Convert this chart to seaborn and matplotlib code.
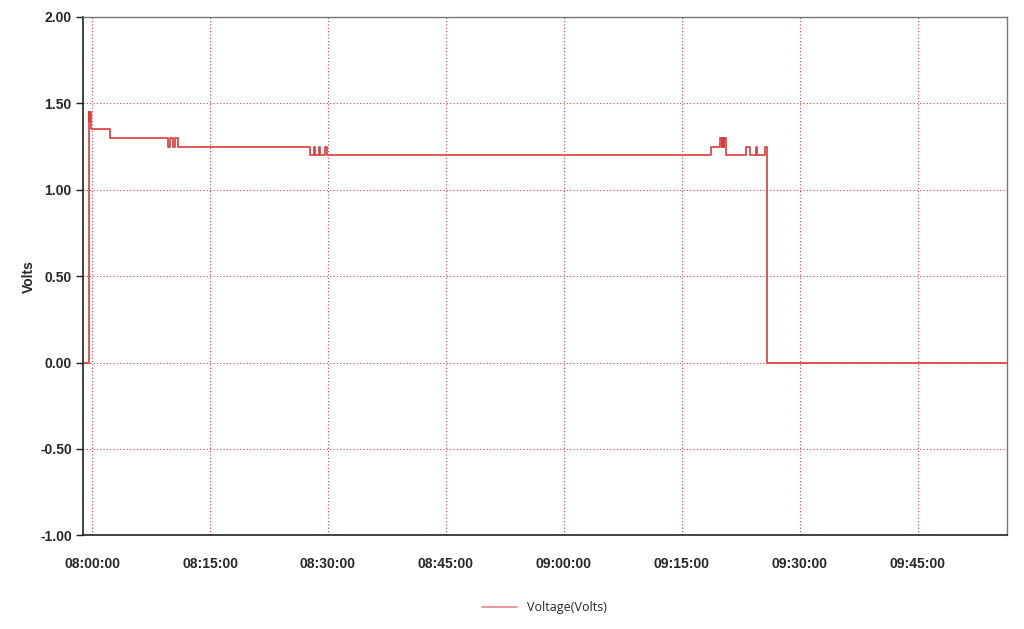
import pandas as pd
import seaborn as sns
import matplotlib.pyplot as plt
import matplotlib.dates as mdates
from matplotlib.ticker import FormatStrFormatter

# step points (time, volts)
times = [
    "07:58:50", "07:59:35", "07:59:40", "07:59:45", "07:59:50",
    "08:02:15",
    "08:09:40", "08:09:55", "08:10:15", "08:10:35", "08:10:55",
    "08:27:40", "08:28:10", "08:28:20", "08:28:50", "08:29:00", "08:29:35", "08:29:50",
    "09:18:40", "09:19:55", "09:20:05", "09:20:10", "09:20:20", "09:20:25", "09:20:35",
    "09:23:10", "09:23:45", "09:24:28", "09:24:38", "09:25:38", "09:25:55",
    "09:56:20",
]
volts = [
    0.00, 1.45, 1.40, 1.45, 1.35,
    1.30,
    1.25, 1.30, 1.25, 1.30, 1.25,
    1.20, 1.25, 1.20, 1.25, 1.20, 1.25, 1.20,
    1.25, 1.30, 1.25, 1.30, 1.25, 1.30, 1.20,
    1.25, 1.20, 1.25, 1.20, 1.25, 0.00,
    0.00,
]
y_ticks = [-1.0, -0.5, 0.0, 0.5, 1.0, 1.5, 2.0]

df = pd.DataFrame({
    "time": pd.to_datetime(["2024-01-01 " + t for t in times]),
    "Voltage(Volts)": volts,
})

sns.set_style("white")
plt.rcParams["font.family"] = ["Liberation Sans", "DejaVu Sans"]

fig = plt.figure(figsize=(10.24, 6.29), dpi=100)
ax = fig.add_axes([0.081, 0.149, 0.902, 0.824])

sns.lineplot(data=df, x="time", y="Voltage(Volts)", ax=ax, color="#dd3b3b",
             linewidth=1.2, drawstyle="steps-post", label="Voltage(Volts)")

ax.set_xlim(df["time"].iloc[0], df["time"].iloc[-1])
ax.set_ylim(-1.0, 2.0)
ax.set_yticks(y_ticks)
ax.yaxis.set_major_formatter(FormatStrFormatter("%.2f"))
ax.xaxis.set_major_locator(mdates.MinuteLocator(byminute=[0, 15, 30, 45]))
ax.xaxis.set_major_formatter(mdates.DateFormatter("%H:%M:%S"))

ax.grid(True, color="#d24a4a", linestyle=(0, (1, 2)), linewidth=0.8)
for s in ["left", "bottom"]:
    ax.spines[s].set_color("#222222")
    ax.spines[s].set_linewidth(1.2)
for s in ["top", "right"]:
    ax.spines[s].set_color("#777777")
    ax.spines[s].set_linewidth(1.0)

ax.tick_params(axis="y", left=True, length=5, width=1, color="#222222", labelsize=10, pad=3)
ax.tick_params(axis="x", bottom=False, labelsize=10, pad=12)
for lbl in ax.get_xticklabels() + ax.get_yticklabels():
    lbl.set_fontweight("bold")

ax.set_xlabel("")
ax.set_ylabel("Volts", fontsize=10, fontweight="bold", labelpad=3)

ax.legend(loc="upper center", bbox_to_anchor=(0.5, -0.105), frameon=False,
          prop={"family": "Open Sans", "size": 9}, handlelength=2.8)
leg = ax.get_legend()
leg.get_lines()[0].set_color("#e08a8a")

fig.savefig("out.png", dpi=100)
